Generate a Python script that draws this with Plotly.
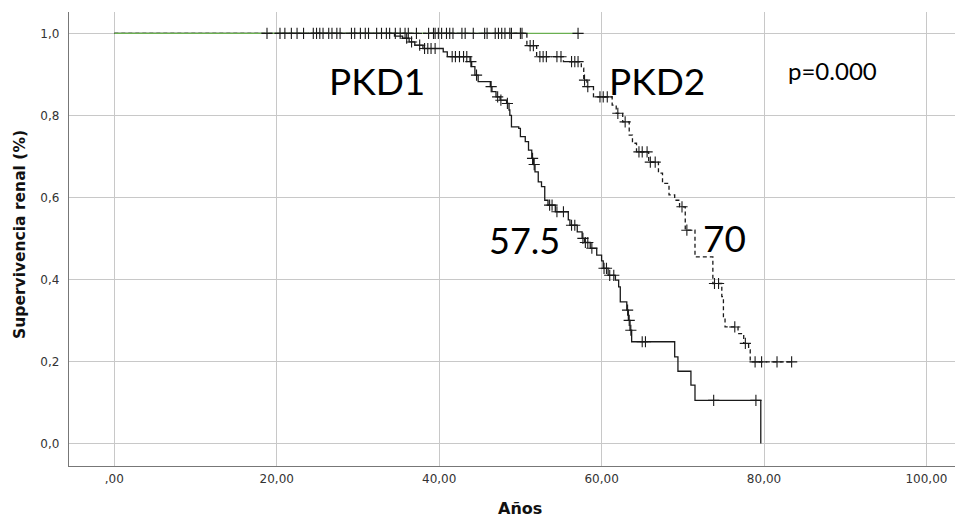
import plotly.graph_objects as go

# ---- data ----
pkd1_times = [0, 34.5, 35.5, 36.3, 37.0, 38.0, 40.5, 41.0, 43.8, 44.0, 44.4, 44.8, 46.3, 46.5, 47.0, 47.5,
              48.3, 48.6, 48.7, 48.9, 49.8, 50.0, 50.6, 51.0, 51.4, 51.6, 51.8, 52.2, 52.6, 53.0, 53.4,
              54.3, 55.9, 56.1, 57.0, 57.6, 57.9, 58.6, 59.4, 60.0, 60.2, 60.8, 61.7, 62.1, 62.3, 63.1,
              63.3, 63.5, 63.7, 69.0, 69.4, 71.0, 71.5, 79.6]
pkd1_surv = [1.0, 0.993, 0.988, 0.979, 0.971, 0.963, 0.955, 0.943, 0.931, 0.919, 0.898, 0.882, 0.870, 0.858,
             0.845, 0.837, 0.829, 0.813, 0.800, 0.772, 0.768, 0.748, 0.736, 0.715, 0.695, 0.680, 0.662, 0.638,
             0.626, 0.593, 0.581, 0.565, 0.545, 0.532, 0.516, 0.500, 0.490, 0.476, 0.459, 0.445, 0.427, 0.410,
             0.398, 0.382, 0.345, 0.325, 0.300, 0.276, 0.248, 0.211, 0.176, 0.142, 0.105, 0.0]
pkd1_censored = [18.8, 20.4, 21.0, 21.8, 22.5, 23.3, 24.5, 24.9, 25.3, 25.7, 26.4, 26.8, 27.4, 27.8, 29.2,
                 29.6, 30.3, 30.9, 31.3, 32.3, 32.9, 33.5, 33.9, 36.0, 36.6, 37.6, 38.2, 38.6, 39.0, 39.5,
                 41.6, 42.0, 42.5, 43.0, 43.4, 43.9, 44.6, 46.4, 47.2, 47.6, 48.4, 51.5, 51.7, 53.6, 53.9,
                 54.5, 55.3, 56.3, 56.7, 57.7, 58.0, 58.3, 58.8, 60.3, 60.6, 61.0, 61.5, 63.2, 63.4, 63.6,
                 65.0, 65.4, 73.8, 79.0]

pkd2_times = [0, 50.8, 52.0, 55.3, 57.5, 57.8, 58.2, 59.0, 61.3, 61.8, 62.6, 63.4, 63.8, 64.3, 65.8, 67.0,
              67.5, 68.3, 69.0, 69.6, 70.3, 71.5, 73.7, 74.8, 75.0, 75.2, 76.8, 77.5, 78.1, 78.3]
pkd2_surv = [1.0, 0.970, 0.943, 0.931, 0.915, 0.886, 0.870, 0.845, 0.825, 0.805, 0.784, 0.752, 0.732, 0.711,
             0.686, 0.659, 0.634, 0.606, 0.593, 0.577, 0.520, 0.455, 0.390, 0.358, 0.309, 0.284, 0.268,
             0.244, 0.228, 0.199]
pkd2_censored = [34.6, 35.2, 35.8, 36.2, 37.2, 38.7, 39.3, 39.5, 39.9, 40.3, 40.9, 41.3, 41.7, 42.8, 43.2,
                 44.2, 45.6, 45.9, 46.9, 47.3, 47.7, 48.1, 48.7, 48.9, 50.0, 50.2, 51.2, 51.6, 52.4, 52.8,
                 53.2, 54.5, 55.0, 56.3, 56.7, 57.1, 57.9, 58.3, 59.8, 60.2, 60.7, 62.0, 62.9, 64.6, 65.0,
                 65.6, 66.0, 66.6, 69.9, 70.5, 73.9, 74.4, 76.4, 77.7, 78.9, 79.7, 81.6, 83.4]

other_times = [0]
other_surv = [1.0]
other_censored = [57.1]

x_tickvals = [0, 20, 40, 60, 80, 100]
x_ticktext = [",00", "20,00", "40,00", "60,00", "80,00", "100,00"]
y_tickvals = [0.0, 0.2, 0.4, 0.6, 0.8, 1.0]
y_ticktext = ["0,0", "0,2", "0,4", "0,6", "0,8", "1,0"]


def surv_at(times, surv, t):
    val = surv[0]
    for ti, si in zip(times, surv):
        if ti <= t:
            val = si
    return val


def km_traces(times, surv, censored, color, dash, width):
    xs = list(times)
    ys = list(surv)
    if censored and max(censored) > xs[-1]:
        xs.append(max(censored))
        ys.append(ys[-1])
    line = go.Scatter(x=xs, y=ys, mode="lines", line_shape="hv",
                      line=dict(color=color, width=width, dash=dash),
                      hoverinfo="skip", showlegend=False)
    cy = [surv_at(times, surv, t) for t in censored]
    marks = go.Scatter(x=censored, y=cy, mode="markers",
                       marker=dict(symbol="cross-thin", size=8,
                                   line=dict(color="#1a1a1a", width=1.1)),
                       hoverinfo="skip", showlegend=False)
    return line, marks


fig = go.Figure()
l1, m1 = km_traces(pkd1_times, pkd1_surv, pkd1_censored, "#1a1a1a", "solid", 1.3)
l2, m2 = km_traces(pkd2_times, pkd2_surv, pkd2_censored, "#1a1a1a", "4px,3px", 1.3)
l3, m3 = km_traces(other_times, other_surv, other_censored, "#6aaf50", "solid", 1.4)
for tr in (l1, l2, l3, m1, m2, m3):
    fig.add_trace(tr)

ann_font = "Lato, Open Sans, sans-serif"
annotations = [
    dict(x=32.4, y=0.886, text="PKD1", size=37),
    dict(x=66.8, y=0.886, text="PKD2", size=37),
    dict(x=50.5, y=0.496, text="57.5", size=36),
    dict(x=75.1, y=0.503, text="70", size=37),
    dict(x=88.4, y=0.910, text="p=0.000", size=24),
]
for a in annotations:
    fig.add_annotation(x=a["x"], y=a["y"], xref="x", yref="y", text=a["text"], showarrow=False,
                       font=dict(family=ann_font, size=a["size"], color="#000000"),
                       xanchor="center", yanchor="middle")

# axis titles as annotations (fixed positions)
fig.add_annotation(x=0.5045, y=0, xref="paper", yref="paper", yshift=-42, text="<b>Años</b>",
                   showarrow=False, font=dict(family="DejaVu Sans", size=16, color="#111111"),
                   xanchor="center", yanchor="middle")
fig.add_annotation(x=0, y=0.509, xref="paper", yref="paper", xshift=-49, textangle=-90,
                   text="<b>Supervivencia renal (%)</b>", showarrow=False,
                   font=dict(family="DejaVu Sans", size=15.5, color="#111111"),
                   xanchor="center", yanchor="middle")

# page body has an 8px margin: figure is 8px smaller and shifted
fig.update_layout(
    width=955, height=511,
    margin=dict(l=61, r=0, t=4, b=53, autoexpand=False),
    paper_bgcolor="white", plot_bgcolor="white",
    font=dict(family="DejaVu Sans", color="#333333"),
    xaxis=dict(range=[-5.58, 104.5], tickvals=x_tickvals, ticktext=x_ticktext,
               showgrid=True, gridcolor="#c8c8c8", gridwidth=1.3, zeroline=False,
               showline=True, linecolor="#777777", linewidth=1.3, ticks="", automargin=False,
               tickfont=dict(size=12, color="#333333"), ticklabelstandoff=1),
    yaxis=dict(range=[-0.055, 1.052], tickvals=y_tickvals, ticktext=y_ticktext,
               showgrid=True, gridcolor="#c8c8c8", gridwidth=1.3, zeroline=False,
               showline=True, linecolor="#777777", linewidth=1.3, ticks="", automargin=False,
               tickfont=dict(size=12, color="#333333"), ticklabelstandoff=6),
)

fig.write_html("out.html")
